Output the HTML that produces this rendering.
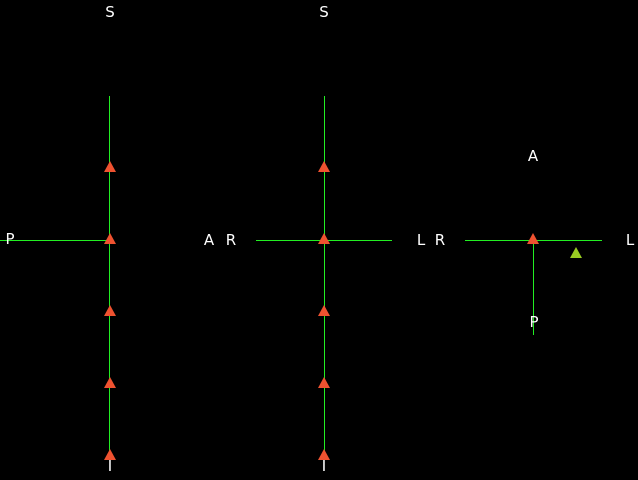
<!DOCTYPE html>
<html><head><meta charset="utf-8"><style>
html,body{margin:0;padding:0;background:#000;width:638px;height:480px;overflow:hidden}
svg{display:block}
text{font-family:"DejaVu Sans","Liberation Sans",sans-serif;font-size:15px;fill:#fff;text-anchor:middle;dominant-baseline:central}
</style></head><body>
<svg id="c" width="638" height="480">
<g>
<line x1="109.5" y1="96" x2="109.5" y2="460" stroke="#22ee22" stroke-width="1"/>
<line x1="0" y1="240.5" x2="109" y2="240.5" stroke="#22ee22" stroke-width="1"/>
<text x="110" y="12">S</text>
<text x="10" y="239">P</text>
<text x="209" y="240">A</text>
<text x="110" y="466">I</text>
</g>
<g>
<line x1="324.5" y1="96" x2="324.5" y2="460" stroke="#22ee22" stroke-width="1"/>
<line x1="256" y1="240.5" x2="392" y2="240.5" stroke="#22ee22" stroke-width="1"/>
<text x="324" y="12">S</text>
<text x="231" y="240">R</text>
<text x="421" y="240">L</text>
<text x="324" y="466">I</text>
</g>
<g>
<line x1="465" y1="240.5" x2="602" y2="240.5" stroke="#22ee22" stroke-width="1"/>
<line x1="533.5" y1="240" x2="533.5" y2="335" stroke="#22ee22" stroke-width="1"/>
<text x="533" y="156">A</text>
<text x="440" y="240">R</text>
<text x="630" y="240">L</text>
<text x="534" y="322">P</text>
</g>
<g id="marks"></g>
</svg>
<script>
// marker slice positions (vertical offsets in slice units from crosshair)
const sliceIdx = [-1, 0, 1, 2, 3];
const sagX = 110, corX = 324;
const greenMark = [576, 253];
const yOf = s => 239 + s * 72;
const g = document.getElementById('marks');
function tri(cx, cy, color, name) {
  const p = document.createElementNS('http://www.w3.org/2000/svg', 'polygon');
  p.setAttribute('points', `${cx},${cy-6} ${cx+6},${cy+5} ${cx-6},${cy+5}`);
  p.setAttribute('fill', color);
  
  
  g.appendChild(p);
}
sliceIdx.forEach((s, i) => {
  tri(sagX, yOf(s), '#ef5230', 'sagittal-marker-' + i);
  tri(corX, yOf(s), '#ef5230', 'coronal-marker-' + i);
});
tri(533, yOf(0), '#ef5230', 'axial-marker');
tri(greenMark[0], greenMark[1], '#99cc22', 'axial-green-marker');
</script>
</body></html>
